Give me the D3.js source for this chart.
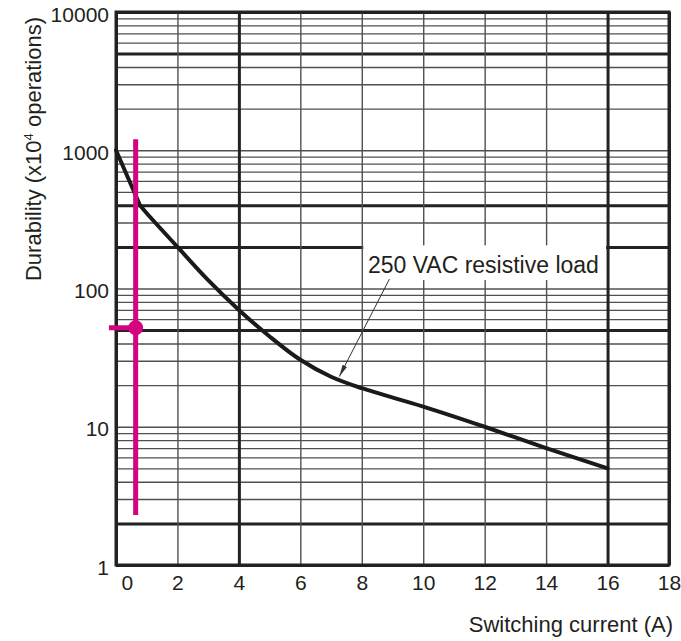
<!DOCTYPE html>
<meta charset="utf-8">
<style>
  body { margin: 0; background: #fff; }
  text {
    font-family: "Liberation Sans", Arial, sans-serif;
    fill: #231f20;
  }
  .ticks text { font-size: 21px; }
  .title { font-size: 22px; }
  .note { font-size: 23px; }
  .grid .domain { display: none; }
</style>
<svg width="681" height="641"></svg>
<script src="https://d3js.org/d3.v7.min.js"></script>
<script>
  // values
  var currentA = [0, 0.78, 1, 2, 3, 4, 5, 6, 7, 8, 10, 12, 14, 16];
  var durability = [1000, 400, 350, 200, 115, 70, 45, 30.5, 23, 19, 14, 10, 7, 5];

  var xTicks = [0, 2, 4, 6, 8, 10, 12, 14, 16, 18];
  var yTicks = [1, 10, 100, 1000, 10000];
  var thickX = [0, 4, 16, 18];
  var thickY = [2, 50, 200, 400, 5000, 1, 10000];

  // magenta marker
  var markerCurrent = 0.64;
  var markerSpan = [1200, 2.3];
  var markerDurability = 52;
  var markerStubFrom = -0.23;

  // annotation
  var noteText = "250 VAC resistive load";
  var notePos = [8.2, 130];
  var noteBox = [[8, 200], [16, 115]];
  var arrowFrom = [8.9, 117];
  var arrowTo = [7.27, 23.1];

  var svg = d3.select("svg");
  var plotL = 116, plotR = 669, plotT = 12, plotB = 565;
  var w = plotR - plotL, h = plotB - plotT;

  var x = d3.scaleLinear().domain([0, 18]).range([plotL, plotR]);
  var y = d3.scaleLog().domain([1, 10000]).range([plotB, plotT]);

  // all horizontal grid values (decades + 2..9 minors)
  var hLines = [];
  [1, 10, 100, 1000].forEach(function(d) {
    for (var m = 1; m < 10; m++) hLines.push(d * m);
  });
  hLines.push(10000);

  var gridY = svg.append("g")
    .attr("class", "grid")
    .attr("transform", "translate(" + plotL + ",0)")
    .call(d3.axisLeft(y).tickValues(hLines).tickSize(-w).tickFormat(""));
  gridY.selectAll(".tick line")
    .attr("stroke", function(d) { return thickY.indexOf(d) >= 0 ? "#222" : "#505050"; })
    .attr("stroke-width", function(d) { return thickY.indexOf(d) >= 0 ? 3 : 1.4; });

  var gridX = svg.append("g")
    .attr("class", "grid")
    .attr("transform", "translate(0," + plotB + ")")
    .call(d3.axisBottom(x).tickValues(xTicks).tickSize(-h).tickFormat(""));
  gridX.selectAll(".tick line")
    .attr("stroke", function(d) { return thickX.indexOf(d) >= 0 ? "#222" : "#505050"; })
    .attr("stroke-width", function(d) { return thickX.indexOf(d) >= 0 ? 3 : 1.4; });

  // white box behind the note
  svg.append("rect")
    .attr("x", x(noteBox[0][0]) + 1.5)
    .attr("y", y(noteBox[0][1]) - 1.5)
    .attr("width", x(noteBox[1][0]) - x(noteBox[0][0]) - 3)
    .attr("height", y(noteBox[1][1]) - y(noteBox[0][1]) + 1.5)
    .attr("fill", "#fff");

  // frame
  svg.append("rect")
    .attr("x", plotL).attr("y", plotT)
    .attr("width", w).attr("height", h)
    .attr("fill", "none")
    .attr("stroke", "#222")
    .attr("stroke-width", 3);

  // tick labels
  var yAx = svg.append("g")
    .attr("class", "ticks")
    .attr("transform", "translate(" + plotL + ",0)")
    .call(d3.axisLeft(y).tickValues(yTicks).tickSize(0).tickPadding(7).tickFormat(d3.format("d")));
  yAx.select(".domain").remove();
  yAx.selectAll("text").attr("dy", 9);

  var xAx = svg.append("g")
    .attr("class", "ticks")
    .attr("transform", "translate(0," + plotB + ")")
    .call(d3.axisBottom(x).tickValues(xTicks).tickSize(0).tickPadding(10));
  xAx.select(".domain").remove();
  xAx.selectAll("text")
    .filter(function(d) { return d === 0; })
    .attr("text-anchor", "start")
    .attr("dx", 5);

  // axis titles
  svg.append("text")
    .attr("class", "title")
    .attr("x", 673).attr("y", 632)
    .attr("text-anchor", "end")
    .text("Switching current (A)");

  var yt = svg.append("text")
    .attr("class", "title")
    .attr("transform", "translate(41,149) rotate(-90)")
    .attr("text-anchor", "middle");
  yt.append("tspan").text("Durability (x10");
  yt.append("tspan").attr("font-size", "13px").attr("dy", -8).text("4");
  yt.append("tspan").attr("dy", 8).text(" operations)");

  // curve: straight drop to the knee, smooth afterwards
  var pts = currentA.map(function(c, i) { return [c, durability[i]]; });
  var line = d3.line()
    .x(function(d) { return x(d[0]); })
    .y(function(d) { return y(d[1]); });
  svg.append("path")
    .attr("fill", "none")
    .attr("stroke", "#1a1a1a")
    .attr("stroke-width", 4)
    .attr("stroke-linecap", "round")
    .attr("d", line.curve(d3.curveLinear)(pts.slice(0, 2)) +
      line.curve(d3.curveCatmullRom.alpha(0.5))(pts.slice(1)).replace(/^M/, "L"));

  // magenta marker
  var mag = "#d4037e";
  svg.append("line")
    .attr("x1", x(markerCurrent)).attr("x2", x(markerCurrent))
    .attr("y1", y(markerSpan[0])).attr("y2", y(markerSpan[1]))
    .attr("stroke", mag).attr("stroke-width", 5);
  svg.append("line")
    .attr("x1", x(markerStubFrom)).attr("x2", x(markerCurrent))
    .attr("y1", y(markerDurability)).attr("y2", y(markerDurability))
    .attr("stroke", mag).attr("stroke-width", 5);
  svg.append("circle")
    .attr("cx", x(markerCurrent)).attr("cy", y(markerDurability))
    .attr("r", 7.5)
    .attr("fill", mag);

  // annotation
  svg.append("defs").append("marker")
    .attr("id", "head")
    .attr("viewBox", "0 -3 12 6")
    .attr("refX", 12).attr("refY", 0)
    .attr("markerWidth", 12).attr("markerHeight", 6)
    .attr("markerUnits", "userSpaceOnUse")
    .attr("orient", "auto")
    .append("path")
    .attr("d", "M0,-2.5L12,0L0,2.5Z")
    .attr("fill", "#333");

  svg.append("line")
    .attr("x1", x(arrowFrom[0])).attr("y1", y(arrowFrom[1]))
    .attr("x2", x(arrowTo[0])).attr("y2", y(arrowTo[1]))
    .attr("stroke", "#333")
    .attr("stroke-width", 1)
    .attr("marker-end", "url(#head)");

  svg.append("text")
    .attr("class", "note")
    .attr("x", x(notePos[0])).attr("y", y(notePos[1]))
    .text(noteText);
</script>
